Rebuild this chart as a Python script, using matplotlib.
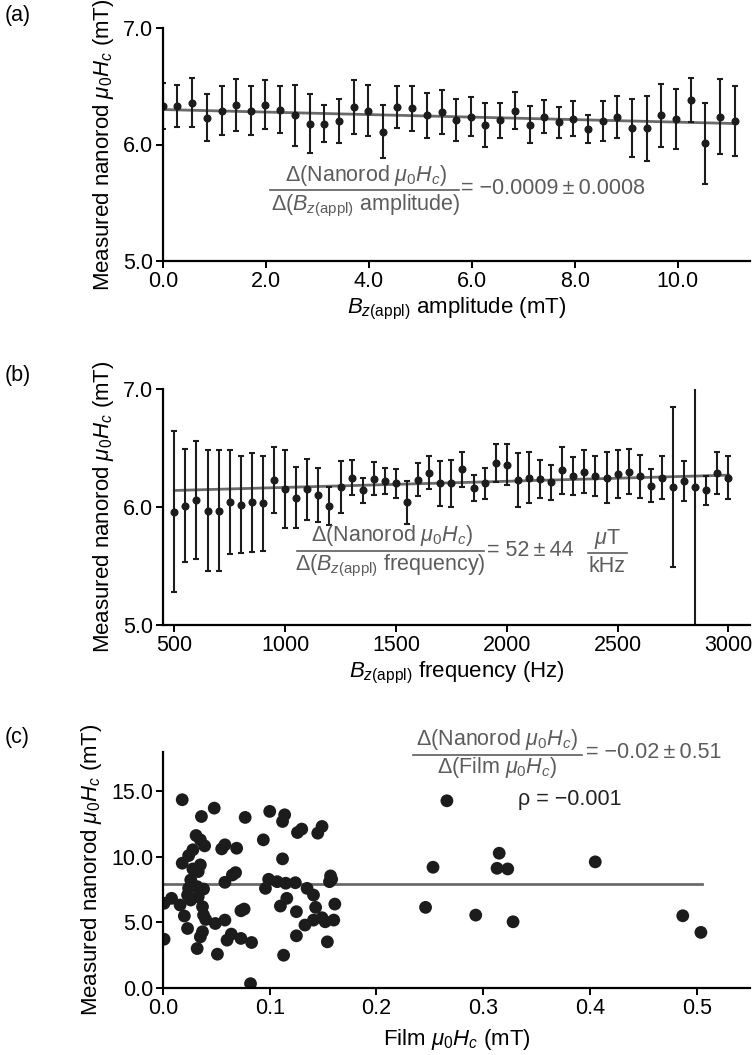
import matplotlib
matplotlib.use("Agg")
import matplotlib.pyplot as plt
from matplotlib.lines import Line2D
from matplotlib.ticker import FormatStrFormatter, MultipleLocator

# ---- panel (a): coercivity vs applied field amplitude ----
amp_x = [0.00, 0.28, 0.57, 0.85, 1.14, 1.42, 1.71, 1.99, 2.28, 2.56,
         2.85, 3.13, 3.42, 3.70, 3.99, 4.27, 4.55, 4.84, 5.12, 5.41,
         5.69, 5.98, 6.26, 6.55, 6.83, 7.12, 7.40, 7.69, 7.97, 8.25,
         8.54, 8.82, 9.11, 9.39, 9.68, 9.96, 10.25, 10.53, 10.82, 11.10]
amp_y = [6.33, 6.33, 6.36, 6.23, 6.29, 6.34, 6.29, 6.34, 6.30, 6.25,
         6.18, 6.18, 6.20, 6.32, 6.29, 6.11, 6.32, 6.31, 6.25, 6.28,
         6.21, 6.24, 6.17, 6.21, 6.29, 6.17, 6.24, 6.19, 6.22, 6.13,
         6.20, 6.24, 6.14, 6.14, 6.25, 6.22, 6.38, 6.01, 6.24, 6.20]
amp_err = [0.20, 0.18, 0.21, 0.20, 0.21, 0.22, 0.21, 0.21, 0.20, 0.26,
           0.25, 0.16, 0.19, 0.23, 0.22, 0.23, 0.18, 0.19, 0.19, 0.19,
           0.18, 0.17, 0.19, 0.15, 0.16, 0.16, 0.14, 0.13, 0.15, 0.12,
           0.17, 0.18, 0.25, 0.28, 0.27, 0.26, 0.19, 0.35, 0.32, 0.30]
amp_fit_x = [0.0, 11.10]
amp_fit_y = [6.30, 6.18]

# ---- panel (b): coercivity vs applied field frequency ----
freq_x = [500, 550, 600, 650, 700, 750, 800, 850, 900, 950,
          1000, 1050, 1100, 1150, 1200, 1250, 1300, 1350, 1400, 1450,
          1500, 1550, 1600, 1650, 1700, 1750, 1800, 1850, 1900, 1950,
          2000, 2050, 2100, 2150, 2200, 2250, 2300, 2350, 2400, 2450,
          2500, 2550, 2600, 2650, 2700, 2750, 2800, 2850, 2900, 2950, 3000]
freq_y = [5.96, 6.01, 6.06, 5.97, 5.97, 6.04, 6.02, 6.04, 6.03, 6.23,
          6.15, 6.08, 6.15, 6.10, 6.01, 6.17, 6.25, 6.14, 6.24, 6.22,
          6.20, 6.04, 6.23, 6.29, 6.20, 6.20, 6.32, 6.16, 6.20, 6.37,
          6.36, 6.23, 6.25, 6.24, 6.21, 6.31, 6.26, 6.30, 6.26, 6.25,
          6.28, 6.30, 6.26, 6.18, 6.25, 6.17, 6.22, 6.17, 6.14, 6.29, 6.25]
freq_err = [0.68, 0.48, 0.50, 0.51, 0.51, 0.44, 0.41, 0.42, 0.40, 0.28,
            0.33, 0.26, 0.26, 0.23, 0.16, 0.22, 0.15, 0.11, 0.14, 0.11,
            0.12, 0.18, 0.14, 0.14, 0.19, 0.20, 0.15, 0.11, 0.13, 0.16,
            0.17, 0.23, 0.22, 0.16, 0.15, 0.20, 0.16, 0.18, 0.17, 0.22,
            0.20, 0.19, 0.18, 0.14, 0.18, 0.68, 0.17, 1.90, 0.12, 0.18, 0.18]
freq_fit_x = [500, 3000]
freq_fit_y = [6.14, 6.27]

# ---- panel (c): nanorod vs film coercivity ----
film_x = [0.018, 0.048, 0.036, 0.077, 0.031, 0.035, 0.039, 0.028, 0.024, 0.018,
          0.058, 0.055, 0.069, 0.028, 0.035, 0.068, 0.065, 0.026, 0.058, 0.024,
          0.032, 0.038, 0.023, 0.008, 0.001, 0.016, 0.026, 0.033, 0.037, 0.038,
          0.020, 0.040, 0.076, 0.073, 0.049, 0.058, 0.023, 0.037, 0.035, 0.001,
          0.064, 0.060, 0.073, 0.083, 0.032, 0.051, 0.082, 0.033,
          0.100, 0.114, 0.112, 0.094, 0.126, 0.130, 0.149, 0.145, 0.112, 0.099,
          0.096, 0.107, 0.115, 0.124, 0.157, 0.158, 0.156, 0.135, 0.141, 0.116,
          0.110, 0.143, 0.161, 0.125, 0.149, 0.141, 0.160, 0.152, 0.133, 0.125,
          0.154, 0.113,
          0.266, 0.253, 0.315, 0.313, 0.323, 0.405, 0.246, 0.293, 0.328, 0.487, 0.504]
rod_y = [14.36, 13.72, 13.08, 13.01, 11.63, 11.30, 10.84, 10.54, 10.10, 9.52,
         10.92, 10.61, 10.66, 9.08, 9.39, 8.80, 8.62, 8.24, 8.06, 7.60,
         7.73, 7.55, 7.09, 6.84, 6.46, 6.33, 6.71, 6.96, 6.20, 5.56,
         5.49, 5.23, 6.02, 5.89, 4.92, 5.18, 4.54, 4.29, 3.90, 3.72,
         4.11, 3.65, 3.78, 3.47, 3.01, 2.58, 0.33, 8.88,
         13.47, 13.21, 12.70, 11.30, 11.86, 12.12, 12.32, 11.81, 9.85, 8.29,
         7.60, 8.11, 7.99, 8.03, 8.55, 8.29, 8.11, 7.60, 7.09, 6.84,
         6.25, 6.15, 6.40, 5.82, 5.36, 5.18, 5.18, 5.05, 4.80, 3.98,
         3.52, 2.50,
         14.28, 9.21, 10.28, 9.13, 9.08, 9.62, 6.15, 5.56, 5.05, 5.51, 4.24]
film_fit_x = [0.0, 0.505]
film_fit_y = [7.93, 7.93]

plt.rcParams["font.family"] = ["Liberation Sans", "DejaVu Sans"]
plt.rcParams["mathtext.fontset"] = "custom"
plt.rcParams["mathtext.rm"] = "Liberation Sans"
plt.rcParams["mathtext.it"] = "Liberation Sans:italic"
plt.rcParams["mathtext.bf"] = "Liberation Sans:bold"

W, H = 755, 1055
DOT = "#1c1c1c"
FIT = "#6a6a6a"
NOTE = "#5c5c5c"
FAM = ["Liberation Sans", "DejaVu Sans"]
fig = plt.figure(figsize=(W / 100, H / 100), dpi=100)


def box(left, top, right, bottom):
    return [left / W, 1 - bottom / H, (right - left) / W, (bottom - top) / H]


def ftext(x, y, s, **kw):
    kw.setdefault("fontsize", 15.5)
    kw.setdefault("color", NOTE)
    kw.setdefault("va", "center")
    fig.text(x / W, 1 - y / H, s, **kw)


def fbar(x0, x1, y):
    fig.add_artist(Line2D([x0 / W, x1 / W], [1 - y / H, 1 - y / H],
                          transform=fig.transFigure, color=NOTE, lw=1.2))


def style(ax):
    for s in ("top", "right"):
        ax.spines[s].set_visible(False)
    for s in ("left", "bottom"):
        ax.spines[s].set_linewidth(1.6)
    ax.tick_params(direction="out", length=5, width=1.4, labelsize=15.5, pad=2)


ylab = r"Measured nanorod $\mu_0H_c$ (mT)"

# (a)
ax1 = fig.add_axes(box(163, 28, 750, 261))
ax1.plot(amp_fit_x, amp_fit_y, color=FIT, lw=2, zorder=1)
ax1.errorbar(amp_x, amp_y, yerr=amp_err, fmt="o", ms=4.8, color=DOT,
             ecolor=DOT, elinewidth=1.5, capsize=2, capthick=1.5, zorder=2)
ax1.set_xlim(0, 11.4)
ax1.set_ylim(5.0, 7.0)
ax1.xaxis.set_major_locator(MultipleLocator(2))
ax1.yaxis.set_major_locator(MultipleLocator(1))
ax1.xaxis.set_major_formatter(FormatStrFormatter("%.1f"))
ax1.yaxis.set_major_formatter(FormatStrFormatter("%.1f"))
style(ax1)
ax1.set_xlabel(r"$B_{z(\mathrm{appl})}$ amplitude (mT)", fontsize=16, labelpad=3)
ax1.set_ylabel(ylab, fontsize=16, labelpad=5)

# (b)
ax2 = fig.add_axes(box(163, 389, 750, 625))
ax2.plot(freq_fit_x, freq_fit_y, color=FIT, lw=2, zorder=1)
ax2.errorbar(freq_x, freq_y, yerr=freq_err, fmt="o", ms=4.8, color=DOT,
             ecolor=DOT, elinewidth=1.5, capsize=2, capthick=1.5, zorder=2)
ax2.set_xlim(449, 3097)
ax2.set_ylim(5.0, 7.0)
ax2.xaxis.set_major_locator(MultipleLocator(500))
ax2.yaxis.set_major_locator(MultipleLocator(1))
ax2.yaxis.set_major_formatter(FormatStrFormatter("%.1f"))
style(ax2)
ax2.set_xlabel(r"$B_{z(\mathrm{appl})}$ frequency (Hz)", fontsize=16, labelpad=3)
ax2.set_ylabel(ylab, fontsize=16, labelpad=5)

# (c)
ax3 = fig.add_axes(box(163, 752, 750, 988))
ax3.plot(film_fit_x, film_fit_y, color=FIT, lw=2, zorder=1)
ax3.scatter(film_x, rod_y, s=85, color=DOT, edgecolors="none", zorder=2)
ax3.set_xlim(0, 0.55)
ax3.set_ylim(0, 18)
ax3.xaxis.set_major_locator(MultipleLocator(0.1))
ax3.yaxis.set_major_locator(MultipleLocator(5))
ax3.xaxis.set_major_formatter(FormatStrFormatter("%.1f"))
ax3.yaxis.set_major_formatter(FormatStrFormatter("%.1f"))
style(ax3)
ax3.set_xlabel(r"Film $\mu_0H_c$ (mT)", fontsize=16, labelpad=6)
ax3.set_ylabel(ylab, fontsize=16, labelpad=5)

# panel letters
for y, s in [(15, "(a)"), (375, "(b)"), (737, "(c)")]:
    ftext(5, y, s, fontsize=15.5, color="black")

# slope notes
ftext(366, 176, r"Δ(Nanorod $\mu_0H_c$)", ha="center")
fbar(270, 459, 190)
ftext(366, 206, r"Δ($B_{z(\mathrm{appl})}$ amplitude)", ha="center")
ftext(461, 189, "= \u22120.0009\u2009±\u20090.0008", ha="left", family=FAM)

ftext(392, 536, r"Δ(Nanorod $\mu_0H_c$)", ha="center")
fbar(297, 484, 551)
ftext(390, 566, r"Δ($B_{z(\mathrm{appl})}$ frequency)", ha="center")
ftext(487, 550, "= 52\u2009±\u200944", ha="left", family=FAM)
ftext(607, 539, r"$\mu$T", ha="center")
fbar(588, 627, 553)
ftext(607, 566, "kHz", ha="center")

ftext(497, 740, r"Δ(Nanorod $\mu_0H_c$)", ha="center")
fbar(413, 582, 755)
ftext(497, 768, r"Δ(Film $\mu_0H_c$)", ha="center")
ftext(586, 753, "= \u22120.02\u2009±\u20090.51", ha="left", family=FAM)
ftext(518, 800, "ρ = \u22120.001", ha="left", color="#222222")

fig.savefig("out.png", dpi=100)
